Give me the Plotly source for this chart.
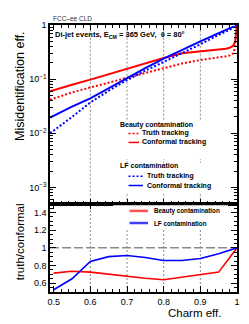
import math
import plotly.graph_objects as go

# ---------------- data ----------------
charm_eff = [0.49, 0.5, 0.55, 0.6, 0.65, 0.7, 0.75, 0.8, 0.85, 0.9, 0.95, 0.97, 0.98, 0.99, 0.995, 1.0]
beauty_truth = [0.0415, 0.0438, 0.057, 0.070, 0.087, 0.106, 0.130, 0.158, 0.195, 0.225, 0.250, 0.265, 0.275, 0.30, 0.40, 1.0]
beauty_conformal = [0.0595, 0.0625, 0.079, 0.098, 0.124, 0.156, 0.196, 0.245, 0.300, 0.325, 0.350, 0.365, 0.380, 0.415, 0.50, 1.0]
lf_truth = [0.0101, 0.0112, 0.020, 0.037, 0.061, 0.096, 0.143, 0.206, 0.300, 0.440, 0.660, 0.750, 0.815, 0.900, 0.950, 1.0]
lf_conformal = [0.0195, 0.0211, 0.031, 0.044, 0.068, 0.105, 0.160, 0.240, 0.350, 0.500, 0.710, 0.800, 0.855, 0.920, 0.960, 1.0]

ratio_eff = [0.5, 0.55, 0.6, 0.65, 0.7, 0.75, 0.8, 0.85, 0.9, 0.95, 1.0]
ratio_beauty = [0.714, 0.735, 0.725, 0.700, 0.677, 0.655, 0.638, 0.665, 0.695, 0.725, 1.0]
ratio_lf = [0.526, 0.650, 0.846, 0.900, 0.914, 0.890, 0.857, 0.857, 0.880, 0.932, 1.0]

log_tick_vals = [1e-3, 1e-2, 1e-1, 1]
log_tick_text = ["10<sup>\u22123</sup>", "10<sup>\u22122</sup>", "10<sup>\u22121</sup>", "1"]
x_tick_vals = [0.5, 0.6, 0.7, 0.8, 0.9, 1.0]
x_tick_text = ["0.5", "0.6", "0.7", "0.8", "0.9", "1"]
ratio_tick_vals = [0.6, 0.8, 1.0, 1.2, 1.4]
ratio_tick_text = ["0.6", "0.8", "1", "1.2", "1.4"]

RED = "#ff0000"
BLUE = "#0000ff"
FONT = "Liberation Sans, Arial, Helvetica, sans-serif"
GRID = "#8a8a8a"

W, H = 249, 324
ML, MR, MT, MB = 42, 20, 15, 40
split = (284 - 195) / (H - MT - MB)


def px(xp):
    return (xp - ML) / (W - ML - MR)


def py(yp):
    return (H - MB - yp) / (H - MT - MB)


fig = go.Figure()

fig.add_trace(go.Scatter(x=charm_eff, y=beauty_truth, mode="lines", xaxis="x", yaxis="y",
                         line=dict(color=RED, width=2, dash="2px,2px"), showlegend=False))
fig.add_trace(go.Scatter(x=charm_eff, y=beauty_conformal, mode="lines", xaxis="x", yaxis="y",
                         line=dict(color=RED, width=2), showlegend=False))
fig.add_trace(go.Scatter(x=charm_eff, y=lf_truth, mode="lines", xaxis="x", yaxis="y",
                         line=dict(color=BLUE, width=2, dash="2px,2px"), showlegend=False))
fig.add_trace(go.Scatter(x=charm_eff, y=lf_conformal, mode="lines", xaxis="x", yaxis="y",
                         line=dict(color=BLUE, width=2), showlegend=False))

fig.add_trace(go.Scatter(x=ratio_eff, y=ratio_beauty, mode="lines", xaxis="x2", yaxis="y2",
                         line=dict(color=RED, width=1.6), showlegend=False))
fig.add_trace(go.Scatter(x=ratio_eff, y=ratio_lf, mode="lines", xaxis="x2", yaxis="y2",
                         line=dict(color=BLUE, width=1.6), showlegend=False))

minor_log = [k * 10.0 ** e for e in range(-4, 0) for k in range(2, 10)]

axis_common = dict(showline=True, linecolor="black", linewidth=1.5, mirror="allticks",
                   ticks="inside", tickcolor="black", zeroline=False, showgrid=False,
                   tickfont=dict(family=FONT, size=9, color="black"))

fig.update_layout(
    width=W, height=H,
    margin=dict(l=ML, r=MR, t=MT, b=MB, pad=0),
    paper_bgcolor="white", plot_bgcolor="white",
    showlegend=False,
    xaxis=dict(**axis_common, domain=[0, 1], anchor="y", range=[0.49, 1.0],
               tickvals=x_tick_vals, showticklabels=False, ticklen=5,
               minor=dict(dtick=0.02, ticks="inside", ticklen=3, tickcolor="black", showgrid=False)),
    yaxis=dict(**axis_common, domain=[split, 1], anchor="x", type="log", range=[-3.3, 0.0],
               tickvals=log_tick_vals, ticktext=log_tick_text, ticklen=6,
               minor=dict(tickvals=minor_log, ticks="inside", ticklen=3, tickcolor="black", showgrid=False)),
    xaxis2=dict(**axis_common, domain=[0, 1], anchor="y2", range=[0.49, 1.0],
                tickvals=x_tick_vals, ticktext=x_tick_text, ticklen=6,
                minor=dict(dtick=0.02, ticks="inside", ticklen=3, tickcolor="black", showgrid=False)),
    yaxis2=dict(**axis_common, domain=[0, split], anchor="x2", range=[0.5, 1.5],
                tickvals=ratio_tick_vals, ticktext=ratio_tick_text, ticklen=6,
                minor=dict(dtick=0.05, ticks="inside", ticklen=3, tickcolor="black", showgrid=False)),
)

shapes = []
grid_line = dict(color=GRID, width=1, dash="2px,2px")
# grid lines at the major ticks
for v in x_tick_vals[1:-1]:
    shapes.append(dict(type="line", xref="x", yref="y domain", x0=v, x1=v, y0=0, y1=1,
                       line=grid_line, layer="below"))
    shapes.append(dict(type="line", xref="x2", yref="y2 domain", x0=v, x1=v, y0=0, y1=1,
                       line=grid_line, layer="below"))
for v in log_tick_vals[:-1]:
    shapes.append(dict(type="line", xref="x domain", yref="y", x0=0, x1=1,
                       y0=math.log10(v), y1=math.log10(v), line=grid_line, layer="below"))
# reference line at ratio = 1
shapes.append(dict(type="line", xref="x2 domain", yref="y2", x0=0, x1=1, y0=1, y1=1,
                   line=dict(color="#8a8a8a", width=1.5, dash="9px,3px"), layer="below"))


# white legend boxes (cover the grid; no data passes through them)
def box(x0, x1, y0, y1):
    return dict(type="rect", xref="paper", yref="paper", x0=px(x0), x1=px(x1), y0=py(y1), y1=py(y0),
                fillcolor="white", line=dict(width=0), layer="above")


shapes.append(box(108, 203, 111, 150))
shapes.append(box(108, 212, 154, 185))
shapes.append(box(105, 220, 196.5, 220))


def sample(x0, x1, y, color, width, dash=None):
    ln = dict(color=color, width=width)
    if dash:
        ln["dash"] = dash
    return dict(type="line", xref="paper", yref="paper", x0=px(x0), x1=px(x1), y0=py(y), y1=py(y),
                line=ln, layer="above")


shapes.append(sample(120.5, 131, 124.2, RED, 1.5, "2px,2px"))
shapes.append(sample(120.5, 131, 133.3, RED, 1.5))
shapes.append(sample(120.5, 135, 167.3, BLUE, 1.5, "2px,2px"))
shapes.append(sample(120.5, 135, 176.7, BLUE, 1.5))
shapes.append(sample(121.5, 140, 202.3, "#ff5050", 2.5))
shapes.append(sample(121.5, 140, 214.5, "#4040ff", 2.5))
fig.update_layout(shapes=shapes)

annotations = []


def txt(x, y, s, size, bold=False, color="black", xanchor="left", yanchor="middle", angle=0):
    annotations.append(dict(xref="paper", yref="paper", x=px(x), y=py(y), text=s, showarrow=False,
                            xanchor=xanchor, yanchor=yanchor, textangle=angle,
                            font=dict(family=FONT, size=size, color=color, weight="bold" if bold else "normal")))


txt(43, 8, "FCC\u2013ee CLD", 6.5, color="#333333")
txt(45, 25, "Di-jet events, E<sub>CM</sub> = 365 GeV,  \u03b8 = 80\u00b0", 7.5, bold=True)
txt(110, 115.5, "Beauty contamination", 7, bold=True)
txt(132, 124.2, "Truth tracking", 7, bold=True)
txt(132, 133.3, "Conformal tracking", 7, bold=True)
txt(110, 157, "LF contamination", 7, bold=True)
txt(136.5, 167.5, "Truth tracking", 7, bold=True)
txt(136.5, 177, "Conformal tracking", 7, bold=True)
txt(144, 202.3, "Beauty contamination", 6.3, bold=True)
txt(144, 214.5, "LF contamination", 6.3, bold=True)
txt(12, 19, "Misidentification eff.", 12.5, xanchor="center", yanchor="top", angle=-90)
txt(12, 193, "truth/conformal", 11.5, xanchor="center", yanchor="top", angle=-90)
txt(214.5, 305, "Charm eff.", 11.5, xanchor="right")
fig.update_layout(annotations=annotations)

fig.write_html("out.html")
